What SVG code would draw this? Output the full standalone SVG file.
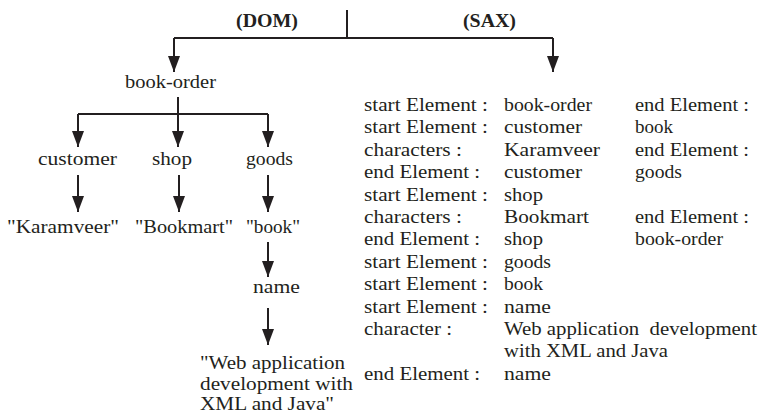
<svg xmlns="http://www.w3.org/2000/svg" width="761" height="415" viewBox="0 0 761 415" font-family="'Liberation Serif', 'Times New Roman', 'DejaVu Serif', Times, serif">
<style>
text{font-family:"Liberation Serif","Times New Roman","DejaVu Serif",Times,serif;font-size:19px;fill:#231f20}
.b{font-weight:bold}
.c{stroke:#231f20;stroke-width:2;fill:none}
</style>
<defs>
<marker id="ah" markerUnits="userSpaceOnUse" markerWidth="16" markerHeight="12" refX="16" refY="6" orient="auto">
<path d="M0,0 L16,6 L0,12 z" fill="#231f20"/>
</marker>
</defs>
<rect width="761" height="415" fill="#fff"/>
<g id="connectors">
<path class="c" d="M347,10 V38"/>
<path class="c" d="M174,38 H553"/>
<path class="c" d="M174,38 V72" marker-end="url(#ah)"/>
<path class="c" d="M553,38 V72" marker-end="url(#ah)"/>
<path class="c" d="M178,97 V114"/>
<path class="c" d="M78,114 H268"/>
<path class="c" d="M78,114 V147" marker-end="url(#ah)"/>
<path class="c" d="M178,114 V147" marker-end="url(#ah)"/>
<path class="c" d="M268,114 V147" marker-end="url(#ah)"/>
<path class="c" d="M78,175 V212" marker-end="url(#ah)"/>
<path class="c" d="M179,175 V212" marker-end="url(#ah)"/>
<path class="c" d="M268,175 V212" marker-end="url(#ah)"/>
<path class="c" d="M268,242 V277" marker-end="url(#ah)"/>
<path class="c" d="M268,308 V345" marker-end="url(#ah)"/>
</g>
<g id="dom-title"><text class="b" x="236" y="27" textLength="62" lengthAdjust="spacingAndGlyphs">(DOM)</text></g>
<g id="sax-title"><text class="b" x="463" y="27" textLength="53" lengthAdjust="spacingAndGlyphs">(SAX)</text></g>
<g id="book-order"><text x="125" y="88" textLength="91" lengthAdjust="spacingAndGlyphs">book-order</text></g>
<g id="customer"><text x="38" y="165" textLength="79" lengthAdjust="spacingAndGlyphs">customer</text></g>
<g id="shop"><text x="152" y="165" textLength="40" lengthAdjust="spacingAndGlyphs">shop</text></g>
<g id="goods"><text x="246" y="165" textLength="47" lengthAdjust="spacingAndGlyphs">goods</text></g>
<g id="karamveer"><text x="7" y="233" textLength="112" lengthAdjust="spacingAndGlyphs">"Karamveer"</text></g>
<g id="bookmart"><text x="135" y="233" textLength="98" lengthAdjust="spacingAndGlyphs">"Bookmart"</text></g>
<g id="book"><text x="246" y="233" textLength="54" lengthAdjust="spacingAndGlyphs">"book"</text></g>
<g id="name"><text x="253" y="293" textLength="47" lengthAdjust="spacingAndGlyphs">name</text></g>
<g id="web-text">
<text x="200" y="369" textLength="145" lengthAdjust="spacingAndGlyphs">"Web application</text>
<text x="200" y="390" textLength="153" lengthAdjust="spacingAndGlyphs">development with</text>
<text x="200" y="410" textLength="134" lengthAdjust="spacingAndGlyphs">XML and Java"</text>
</g>
<g id="sax-events">
<text x="364" y="111" textLength="124" lengthAdjust="spacingAndGlyphs">start Element :</text><text x="504" y="111" textLength="88" lengthAdjust="spacingAndGlyphs">book-order</text><text x="635" y="111" textLength="114" lengthAdjust="spacingAndGlyphs">end Element :</text>
<text x="364" y="133.4" textLength="124" lengthAdjust="spacingAndGlyphs">start Element :</text><text x="504" y="133.4" textLength="78" lengthAdjust="spacingAndGlyphs">customer</text><text x="635" y="133.4" textLength="38" lengthAdjust="spacingAndGlyphs">book</text>
<text x="364" y="155.8" textLength="98" lengthAdjust="spacingAndGlyphs">characters :</text><text x="504" y="155.8" textLength="96" lengthAdjust="spacingAndGlyphs">Karamveer</text><text x="635" y="155.8" textLength="114" lengthAdjust="spacingAndGlyphs">end Element :</text>
<text x="364" y="178.2" textLength="116" lengthAdjust="spacingAndGlyphs">end Element :</text><text x="504" y="178.2" textLength="78" lengthAdjust="spacingAndGlyphs">customer</text><text x="635" y="178.2" textLength="47" lengthAdjust="spacingAndGlyphs">goods</text>
<text x="364" y="200.6" textLength="124" lengthAdjust="spacingAndGlyphs">start Element :</text><text x="504" y="200.6" textLength="39" lengthAdjust="spacingAndGlyphs">shop</text>
<text x="364" y="223" textLength="98" lengthAdjust="spacingAndGlyphs">characters :</text><text x="504" y="223" textLength="85" lengthAdjust="spacingAndGlyphs">Bookmart</text><text x="635" y="223" textLength="114" lengthAdjust="spacingAndGlyphs">end Element :</text>
<text x="364" y="245.4" textLength="116" lengthAdjust="spacingAndGlyphs">end Element :</text><text x="504" y="245.4" textLength="39" lengthAdjust="spacingAndGlyphs">shop</text><text x="635" y="245.4" textLength="88" lengthAdjust="spacingAndGlyphs">book-order</text>
<text x="364" y="267.8" textLength="124" lengthAdjust="spacingAndGlyphs">start Element :</text><text x="504" y="267.8" textLength="47" lengthAdjust="spacingAndGlyphs">goods</text>
<text x="364" y="290.2" textLength="124" lengthAdjust="spacingAndGlyphs">start Element :</text><text x="504" y="290.2" textLength="39" lengthAdjust="spacingAndGlyphs">book</text>
<text x="364" y="312.6" textLength="124" lengthAdjust="spacingAndGlyphs">start Element :</text><text x="504" y="312.6" textLength="47" lengthAdjust="spacingAndGlyphs">name</text>
<text x="364" y="335" textLength="88" lengthAdjust="spacingAndGlyphs">character :</text><text x="504" y="335" textLength="253" lengthAdjust="spacingAndGlyphs" xml:space="preserve">Web application  development</text>
<text x="504" y="357.4" textLength="164" lengthAdjust="spacingAndGlyphs">with XML and Java</text>
<text x="364" y="379.8" textLength="116" lengthAdjust="spacingAndGlyphs">end Element :</text><text x="504" y="379.8" textLength="47" lengthAdjust="spacingAndGlyphs">name</text>
</g>
</svg>
